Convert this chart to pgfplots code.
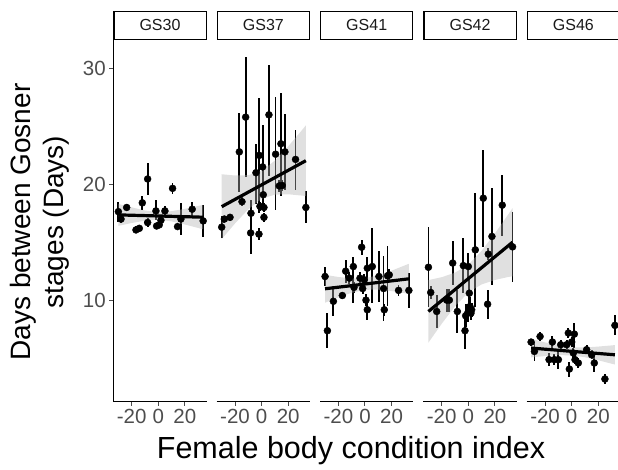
\documentclass[border=0pt]{standalone}
\usepackage{fontspec}
\setmainfont{Liberation Sans}
\usepackage{pgfplots}
\pgfplotsset{compat=1.18}
\usepackage{pgfplotstable}
\definecolor{tickgray}{HTML}{4D4D4D}
\definecolor{stripgray}{HTML}{1A1A1A}

\pgfplotsset{
  panel/.style={
    scale only axis, width=93.4pt, height=361.7pt,
    xmin=-33.8, xmax=36.4, ymin=1.23, ymax=32.46,
    anchor=south west,
    axis x line*=bottom,
    xtick={-20,0,20}, xticklabels={-20,0,20},
    tick align=outside, major tick length=4pt,
    tick style={line width=1pt, tickgray},
    axis line style={line width=1.2pt, black},
    tick label style={font=\fontsize{20.5}{24}\selectfont, text=tickgray},
    clip=false,
  },
  pts/.style={only marks, mark=*, mark size=3.5pt, black,
     error bars/.cd, y dir=both, y explicit, error mark=none,
     error bar style={line width=1.8pt, black}},
  band/.style={fill=gray!60, fill opacity=0.4, draw=none, forget plot},
  fit/.style={black, line width=3.2pt, no marks},
}

\pgfplotstableread{
x y ep em
-30 17.64 0.86 0.86
-28 17.0 0.3 0.3
-23.75 18.0 0.3 0.3
-16.75 16.06 0.3 0.3
-14.25 16.2 0.3 0.3
-12 18.4 0.6 0.6
-8 20.46 1.35 1.38
-8 16.7 0.4 0.4
-1.75 17.7 0.95 0.78
-1.25 16.4 0.3 0.3
0.75 16.5 0.3 0.3
2 16.9 0.3 0.3
5 17.7 0.4 0.4
10.75 19.65 0.45 0.45
14.5 16.35 0.3 0.3
17 17.0 1.35 1.38
25.5 17.85 0.66 0.63
33.75 16.84 1.38 1.35
}\pA
\pgfplotstableread{
x y
-30 18.31
-20 18.01
-10 17.74
0 17.59
10 17.68
20 17.88
30 18.13
33.75 18.22
33.75 16.11
30 16.23
20 16.53
10 16.80
0 16.95
-10 16.86
-20 16.66
-30 16.41
}\rA

\pgfplotstableread{
x y ep em
-30 16.3 0.95 0.95
-28 17.0 0.3 0.3
-23.75 17.15 0.3 0.3
-16.75 22.8 3.36 3.45
-14.75 18.5 0.4 0.4
-12 25.8 5.17 5.17
-8 17.5 1.15 1.44
-8.25 15.8 1.67 1.78
-4.25 21.0 2.5 2.7
-2 15.7 0.5 0.5
-1.75 22.5 4.94 4.97
-1.25 18.1 0.4 0.4
0.75 21.5 3.6 3.74
1.25 19.1 0.4 0.4
1.75 18.0 0.4 0.4
1.75 17.15 0.4 0.4
5.5 26.0 4.31 5.3
10.5 22.6 4.97 4.8
13.25 19.86 0.5 0.5
14.5 23.5 4.37 4.54
15.5 19.9 0.5 0.5
17.5 22.8 3.3 3.3
25.5 22.15 2.53 2.64
33.25 18.0 1.38 1.35
}\pB
\pgfplotstableread{
x y
-30 20.87
-20 20.76
-10 20.79
0 21.15
10 22.05
20 23.28
30 24.63
33.25 25.09
33.25 18.99
30 19.03
20 19.14
10 19.11
0 18.75
-10 17.85
-20 16.62
-30 15.27
}\rB

\pgfplotstableread{
x y ep em
-30 12.04 0.86 0.86
-28.25 7.36 1.52 1.5
-23.75 9.9 1.3 1.3
-17 10.4 0.3 0.3
-14.5 12.5 0.95 1.06
-11.75 11.9 0.5 0.5
-8.75 12.9 0.86 3.16
-8.25 11.1 0.5 0.5
-3.75 11.9 0.5 0.5
-2.5 14.57 0.63 0.66
-1.75 11.0 0.5 0.5
-0.5 11.75 0.5 0.5
0.75 10.0 0.5 0.5
1.75 9.17 0.9 0.9
1.75 12.76 1.0 1.0
5.5 12.9 3.3 3.16
10.5 12.04 2.16 2.16
14 11.0 2.8 2.8
14.5 9.17 0.5 0.5
17 12.1 2.6 2.6
18.25 12.18 0.5 0.5
25.25 10.84 0.5 0.5
33 10.84 1.5 1.52
}\pC
\pgfplotstableread{
x y
-30 12.18
-20 12.00
-10 11.87
0 11.89
10 12.15
20 12.54
30 13.0
33 13.14
33 10.54
30 10.6
20 10.78
10 10.91
0 10.89
-10 10.63
-20 10.24
-30 9.78
}\rC

\pgfplotstableread{
x y ep em
-30 12.84 3.5 3.4
-28.25 10.66 0.6 0.6
-23.75 9.02 1.44 1.44
-16.25 10.0 1.0 1.0
-14.25 10.0 1.0 1.0
-11.75 13.2 1.87 1.87
-8.25 9.02 1.87 1.87
-3.75 12.98 2.36 2.39
-2.5 7.36 1.55 1.55
-2 8.65 1.0 1.0
0 12.9 1.2 1.2
-0.5 8.88 0.8 0.8
0.75 10.6 1.3 1.3
1.25 9.45 0.8 0.8
2 8.88 0.6 0.6
2.5 9.17 0.6 0.6
5.25 14.34 4.9 4.9
11.25 18.8 4.17 4.17
14.5 9.65 1.25 1.25
15 13.97 0.5 0.5
17.75 15.5 4.17 4.17
25.5 18.2 2.64 2.67
33.25 14.6 3.0 3.0
}\pD
\pgfplotstableread{
x y
-30 11.73
-20 11.98
-10 12.37
0 13.06
10 14.26
20 15.76
30 17.40
33.25 17.94
33.25 12.06
30 12.0
20 11.74
10 11.36
0 10.66
-10 9.47
-20 7.96
-30 6.33
}\rD

\pgfplotstableread{
x y ep em
-30.5 6.38 0.3 0.3
-28 5.57 0.8 0.8
-23.75 6.86 0.43 0.43
-17 4.86 0.57 0.57
-14.5 6.38 0.5 0.5
-13 4.86 0.5 0.5
-10 4.86 0.8 0.8
-8.25 6.15 0.4 0.4
-3.75 6.15 0.4 0.4
-2.5 7.16 0.45 0.45
-1.75 4.05 0.65 0.65
0 6.38 0.4 0.4
1.25 5.43 0.4 0.4
2 7.07 0.95 1.2
2.5 4.86 0.4 0.4
5 4.57 0.43 0.43
11.25 5.72 0.4 0.4
15 5.28 0.4 0.4
17 4.57 0.8 0.8
25 3.19 0.45 0.45
32.5 7.82 0.86 0.86
}\pE
\pgfplotstableread{
x y
-30.5 6.66
-20 6.35
-10 6.09
0 5.93
10 5.91
20 5.99
30 6.09
32.5 6.12
32.5 4.44
30 4.51
20 4.81
10 5.07
0 5.23
-10 5.25
-20 5.17
-30.5 5.06
}\rE

\begin{document}
\begin{tikzpicture}[x=1pt,y=1pt]

% Panel 1
\begin{axis}[panel, at={(113.3pt,67.3pt)}, axis y line*=left,
  ytick={10,20,30}, yticklabels={10,20,30}]
\addplot[pts] table[x=x,y=y,y error plus=ep,y error minus=em]{\pA};
\addplot[band] table[x=x,y=y]{\rA} -- cycle;
\addplot[fit] coordinates {(-30,17.36) (33.75,17.16)};
\end{axis}

% Panel 2
\begin{axis}[panel, at={(216.65pt,67.3pt)}, axis y line=none, ytick=\empty]
\addplot[pts] table[x=x,y=y,y error plus=ep,y error minus=em]{\pB};
\addplot[band] table[x=x,y=y]{\rB} -- cycle;
\addplot[fit] coordinates {(-30,18.07) (33.25,22.04)};
\end{axis}

% Panel 3
\begin{axis}[panel, at={(320.0pt,67.3pt)}, axis y line=none, ytick=\empty]
\addplot[pts] table[x=x,y=y,y error plus=ep,y error minus=em]{\pC};
\addplot[band] table[x=x,y=y]{\rC} -- cycle;
\addplot[fit] coordinates {(-30,10.98) (33,11.84)};
\end{axis}

% Panel 4
\begin{axis}[panel, at={(423.35pt,67.3pt)}, axis y line=none, ytick=\empty]
\addplot[pts] table[x=x,y=y,y error plus=ep,y error minus=em]{\pD};
\addplot[band] table[x=x,y=y]{\rD} -- cycle;
\addplot[fit] coordinates {(-30,9.02) (33.25,15.0)};
\end{axis}

% Panel 5
\begin{axis}[panel, at={(526.7pt,67.3pt)}, axis y line=none, ytick=\empty]
\addplot[pts] table[x=x,y=y,y error plus=ep,y error minus=em]{\pE};
\addplot[band] table[x=x,y=y]{\rE} -- cycle;
\addplot[fit] coordinates {(-30.5,5.86) (32.5,5.28)};
\end{axis}

% strips
\foreach \L/\lab in {113.3/GS30, 216.65/GS37, 320.0/GS41, 423.35/GS42, 526.7/GS46}{
  \draw[line width=1.2pt, black, fill=white] (\L+0.6,429.6) rectangle (\L+92.8,457.6);
  \node[font=\fontsize{16}{18}\selectfont, text=stripgray] at (\L+46.7,443.6) {\lab};
}

% axis titles
\node[rotate=90, align=center, font=\fontsize{28}{33}\selectfont, text=black] at (40,247) {Days between Gosner\\stages (Days)};
\node[anchor=base, font=\fontsize{30.5}{34}\selectfont, text=black] at (351,11) {Female body condition index};

\pgfresetboundingbox
\useasboundingbox (0,0) rectangle (618,469);
\end{tikzpicture}
\end{document}
